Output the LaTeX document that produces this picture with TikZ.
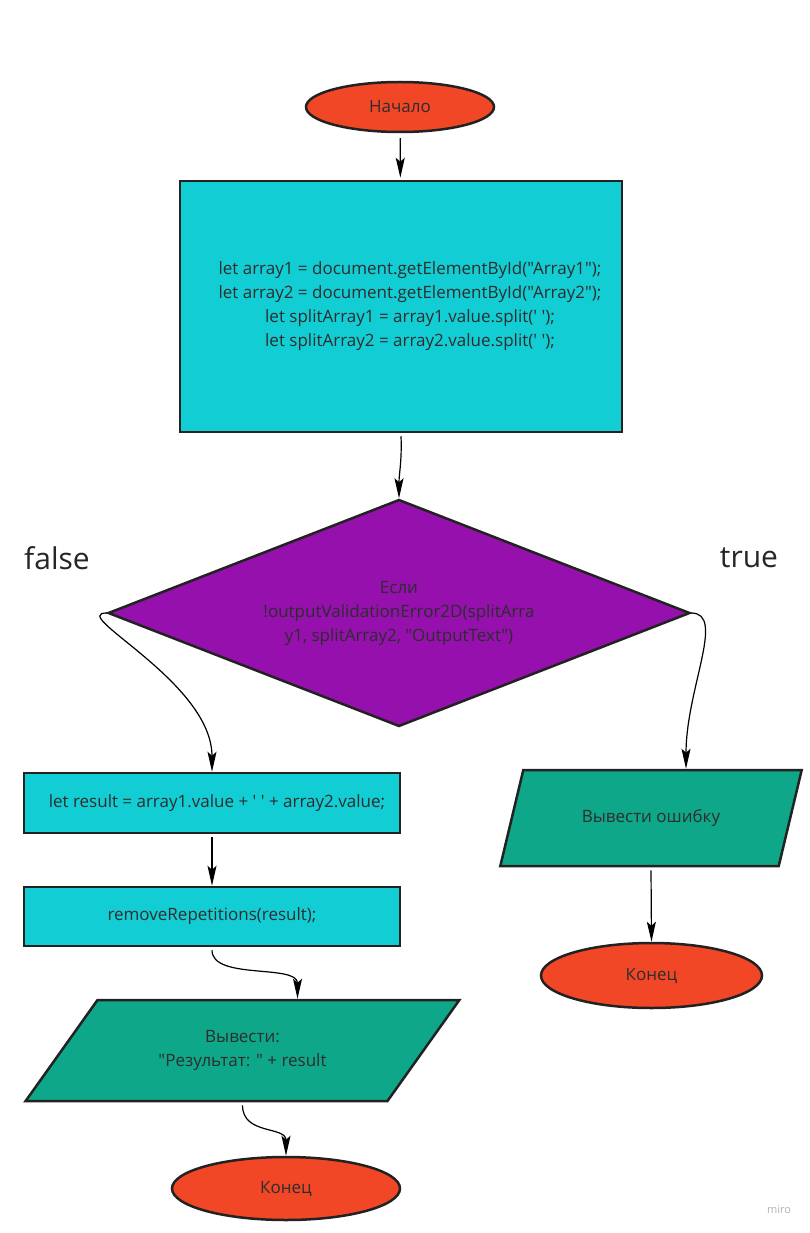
\documentclass[tikz,border=0pt]{standalone}
\usepackage{fontspec}
\setmainfont{Open Sans}[Ligatures=TeXOff]
\usetikzlibrary{shapes.geometric,arrows.meta}
\definecolor{termred}{RGB}{241,71,38}
\definecolor{boxcyan}{RGB}{18,205,212}
\definecolor{ifpurple}{RGB}{149,16,172}
\definecolor{iogreen}{RGB}{14,167,137}
\definecolor{edgegray}{RGB}{34,34,34}
\definecolor{textgray}{RGB}{45,45,45}

\begin{document}
\begin{tikzpicture}[x=1pt, y=-1pt, >={Stealth[length=20pt,width=9pt,inset=4pt]},
  font=\fontsize{17}{24}\selectfont,
  terminal/.style={ellipse, draw=edgegray, line width=2.5pt, fill=termred, text=textgray, inner sep=0pt},
  process/.style={rectangle, draw=edgegray, line width=2.5pt, fill=boxcyan, text=textgray, align=center, inner sep=0pt},
  decision/.style={diamond, draw=edgegray, line width=2.5pt, fill=ifpurple, text=textgray, align=center, aspect=2.56, inner sep=0pt},
  inout/.style={trapezium, trapezium stretches=true, draw=edgegray, line width=2.5pt, fill=iogreen, text=textgray, align=center, inner sep=0pt},
  flow/.style={->, line width=1.2pt, black},
  branch/.style={font=\fontsize{30}{32}\selectfont, text=black!85}]
  \useasboundingbox (0,0) rectangle (810,1233);
  % === Start and init ===
  \node[terminal, minimum width=188, minimum height=50] (start) at (400,107) {Начало};
  \node[process, minimum width=442, minimum height=251] (init) at (401,306.5)
    {\hspace*{18pt}let array1 = document.getElementById("Array1");\\
     \hspace*{18pt}let array2 = document.getElementById("Array2");\\
     \hspace*{18pt}let splitArray1 = array1.value.split(' ');\\
     \hspace*{18pt}let splitArray2 = array2.value.split(' ');};
  % === Condition ===
  \node[decision, minimum width=582, minimum height=227] (cond) at (399,613)
    {Если\\ !outputValidationError2D(splitArra\\ y1, splitArray2, "OutputText")};
  \node[branch] (lblfalse) at (57,558) {false};
  \node[branch] (lbltrue) at (749,558) {true};
  % === false branch ===
  \node[process, minimum width=376, minimum height=60] (result) at (212,803)
    {\hspace*{10pt}let result = array1.value + ' ' + array2.value;};
  \node[process, minimum width=376, minimum height=59] (remove) at (212,916.5)
    {removeRepetitions(result);};
  \node[inout, minimum width=435, minimum height=101, trapezium left angle=44, trapezium right angle=136]
    (output) at (242.5,1050.5) {Вывести:\\ "Результат: " + result};
  \node[terminal, minimum width=228, minimum height=63] (endleft) at (286,1188.5) {Конец};
  % === true branch ===
  \node[inout, minimum width=302, minimum height=96, trapezium left angle=54, trapezium right angle=126]
    (error) at (651,818) {Вывести ошибку};
  \node[terminal, minimum width=221, minimum height=65] (endright) at (651.5,975.5) {Конец};
  \node[text=black!30, font=\fontsize{11}{12}\selectfont] (miro) at (779,1210) {miro};
  % === Connectors ===
  \coordinate (errtop) at ([xshift=35pt]error.north);
  \coordinate (outtop) at ([xshift=55pt]output.north);
  \draw[flow, shorten <=5pt, shorten >=2pt] (start) -- (init);
  \draw[flow] ([yshift=-3pt]init.south) .. controls +(1,25) and +(0,-25) .. (cond.north);
  \draw[flow] (cond.west) .. controls +(-40,0) and +(0,-90) .. (result.north);
  \draw[flow] (cond.east) .. controls +(35,0) and +(0,-80) .. (errtop);
  \draw[flow] ([yshift=-3pt]result.south) -- (remove.north);
  \draw[flow] ([yshift=-3pt]remove.south) .. controls +(0,30) and +(0,-35) .. (outtop);
  \draw[flow] ([yshift=-3pt]output.south) .. controls +(0,30) and +(0,-30) .. (endleft.north);
  \draw[flow] ([yshift=-3pt]error.south) -- (endright.north);
\end{tikzpicture}
\end{document}
